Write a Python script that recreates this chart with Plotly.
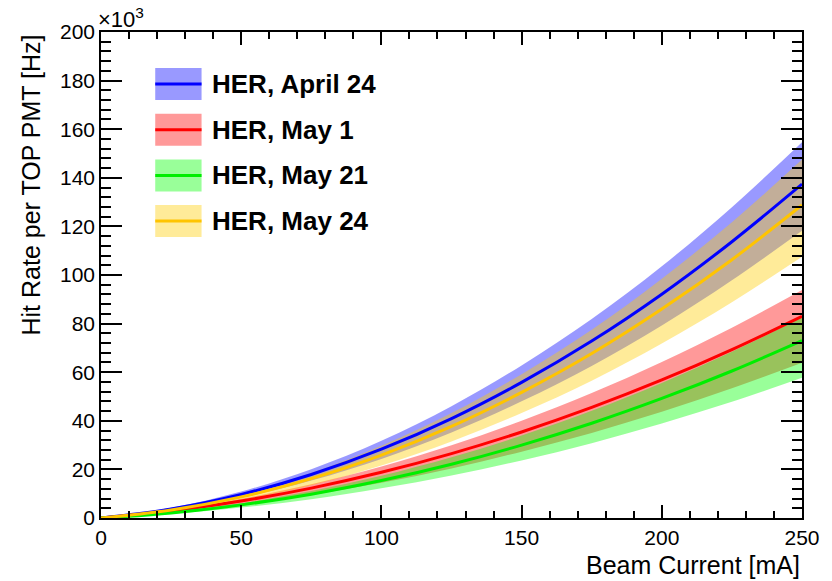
import plotly.graph_objects as go

# Beam current [mA]
current = [0, 25, 50, 75, 100, 125, 150, 175, 200, 225, 250]

# Hit rate per TOP PMT [10^3 Hz]: central fit and band limits
apr24 = [0, 3.7, 9.7, 17.9, 28.3, 40.9, 55.8, 72.8, 92.1, 113.7, 137.4]
apr24_hi = [0, 4.2, 10.9, 20.1, 31.8, 46.0, 62.8, 81.9, 103.6, 127.9, 154.6]
apr24_lo = [0, 3.2, 8.3, 15.4, 24.3, 35.2, 48.0, 62.6, 79.2, 97.8, 118.2]

may1 = [0, 2.9, 7.0, 12.3, 18.8, 26.5, 35.4, 45.5, 56.8, 69.3, 83.0]
may1_hi = [0, 3.3, 7.9, 13.9, 21.2, 29.9, 40.0, 51.4, 64.2, 78.3, 93.8]
may1_lo = [0, 2.2, 5.4, 9.5, 14.5, 20.4, 27.3, 35.0, 43.7, 53.4, 63.9]

may21 = [0, 2.1, 5.4, 9.8, 15.4, 22.1, 30.0, 39.0, 49.2, 60.5, 73.0]
may21_hi = [0, 2.4, 6.1, 11.1, 17.4, 25.0, 33.9, 44.1, 55.6, 68.4, 82.5]
may21_lo = [0, 1.7, 4.3, 7.7, 12.2, 17.5, 23.7, 30.8, 38.9, 47.8, 57.7]

may24 = [0, 3.3, 8.7, 16.2, 25.9, 37.7, 51.7, 67.7, 86.0, 106.3, 128.8]
may24_hi = [0, 3.8, 10.0, 18.5, 29.7, 43.2, 59.2, 77.5, 98.5, 121.7, 147.5]
may24_lo = [0, 2.8, 7.3, 13.5, 21.6, 31.5, 43.2, 56.5, 71.8, 88.8, 107.5]

labels = ["HER, April 24", "HER, May 1", "HER, May 21", "HER, May 24"]
line_colors = ["#0000ff", "#ff0000", "#00ee00", "#ffc400"]
band_colors = ["rgba(0,0,255,0.4)", "rgba(255,0,0,0.4)",
               "rgba(0,255,0,0.4)", "rgba(255,204,0,0.4)"]

series = [
    (apr24, apr24_hi, apr24_lo),
    (may1, may1_hi, may1_lo),
    (may21, may21_hi, may21_lo),
    (may24, may24_hi, may24_lo),
]

W, H = 832, 581
L, R, T, B = 101, 20, 32, 63
PW, PH = W - L - R, H - T - B

def px(x):
    return (x - L) / PW

def py(y):
    return (H - B - y) / PH

fig = go.Figure()

# error bands
for (c, hi, lo), bc in zip(series, band_colors):
    fig.add_trace(go.Scatter(x=current, y=hi, mode="lines",
                             line=dict(width=0, shape="spline"),
                             hoverinfo="skip", showlegend=False))
    fig.add_trace(go.Scatter(x=current, y=lo, mode="lines", fill="tonexty",
                             fillcolor=bc, line=dict(width=0, shape="spline"),
                             hoverinfo="skip", showlegend=False))

# central curves
for (c, hi, lo), lc, name in zip(series, line_colors, labels):
    fig.add_trace(go.Scatter(x=current, y=c, mode="lines", name=name,
                             line=dict(color=lc, width=3, shape="spline"),
                             showlegend=False))

font = "Liberation Sans, Arial, Helvetica, sans-serif"

axis_common = dict(
    showline=True, linecolor="black", linewidth=1.5, mirror="ticks",
    ticks="inside", tickcolor="black", tickwidth=1.5,
    showgrid=False, zeroline=False,
    tickfont=dict(family=font, size=21, color="black"),
)

fig.update_xaxes(range=[0, 250], dtick=50, ticklen=13,
                 minor=dict(dtick=10, ticklen=7, ticks="inside",
                            tickcolor="black", tickwidth=1.5),
                 **axis_common)
fig.update_yaxes(range=[0, 200], dtick=20, ticklen=21,
                 minor=dict(dtick=4, ticklen=10, ticks="inside",
                            tickcolor="black", tickwidth=1.5),
                 **axis_common)

annotations = [
    dict(text="Beam Current [mA]", xref="paper", yref="paper",
         x=1.0, y=py(565), xanchor="right", yanchor="middle",
         showarrow=False, font=dict(family=font, size=25, color="black")),
    dict(text="Hit Rate per TOP PMT [Hz]", xref="paper", yref="paper",
         x=px(30), y=1.0, xanchor="center", yanchor="top", textangle=-90,
         showarrow=False, font=dict(family=font, size=25, color="black")),
    dict(text="×10<sup>3</sup>", xref="paper", yref="paper",
         x=px(96), y=py(18), xanchor="left", yanchor="middle",
         showarrow=False, font=dict(family=font, size=22, color="black")),
]

# legend entries: filled box with a line through it, bold label
shapes = []
box_top = 68
step = 45.7
for i, (bc, lc, name) in enumerate(zip(band_colors, line_colors, labels)):
    top = box_top + i * step
    bot = top + 32
    mid = (top + bot) / 2
    shapes.append(dict(type="rect", xref="paper", yref="paper",
                       x0=px(156), x1=px(203), y0=py(bot), y1=py(top),
                       fillcolor=bc, line=dict(width=0)))
    shapes.append(dict(type="line", xref="paper", yref="paper",
                       x0=px(156), x1=px(203), y0=py(mid), y1=py(mid),
                       line=dict(color=lc, width=3)))
    annotations.append(dict(text="<b>%s</b>" % name, xref="paper", yref="paper",
                            x=px(212), y=py(mid), xanchor="left", yanchor="middle",
                            showarrow=False,
                            font=dict(family=font, size=26, color="black")))

fig.update_layout(
    width=W, height=H,
    margin=dict(l=L, r=R, t=T, b=B),
    paper_bgcolor="white", plot_bgcolor="white",
    annotations=annotations, shapes=shapes,
    showlegend=False,
)

fig.write_html("out.html")
